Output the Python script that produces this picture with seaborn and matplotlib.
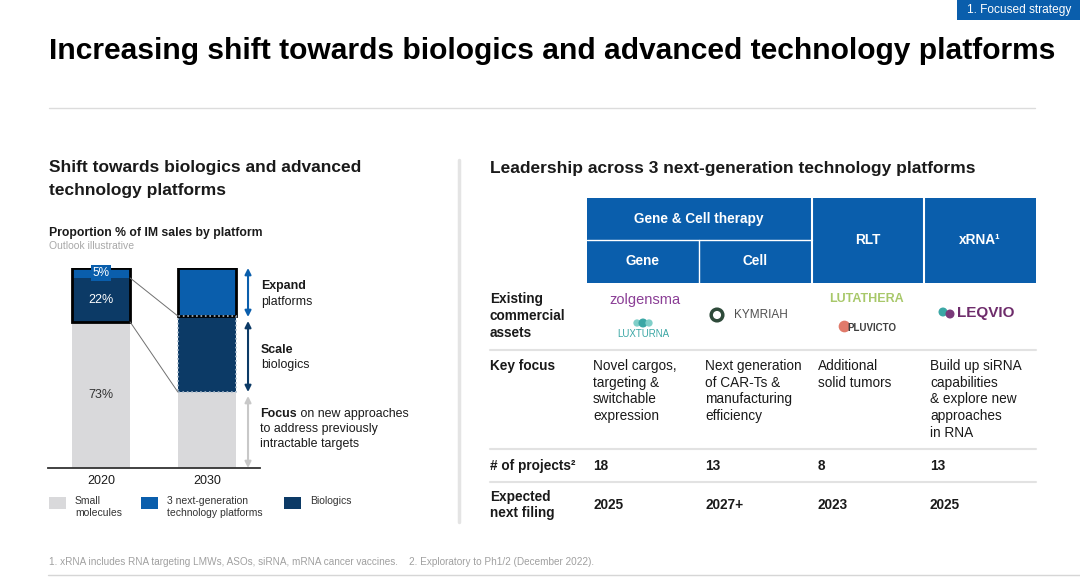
import matplotlib
matplotlib.use('Agg')
import matplotlib.pyplot as plt
import seaborn as sns
import pandas as pd

sns.set_style('white')
plt.rcParams['font.family'] = ['Liberation Sans', 'DejaVu Sans']

W, H = 1080, 578
BLUE = '#0A5EAC'
NAVY = '#0C3A66'
LIGHT = '#D9D9DB'
INK = '#1A1A1A'
RULE = '#DCDCDC'
BODY = 9.8

# left chart: proportion % of IM sales by platform
years = ['2020', '2030']
small_molecules = [73, 38]
biologics = [22, 38]
platforms = [5, 24]
legend_labels = ['Small\nmolecules', '3 next-generation\ntechnology platforms', 'Biologics']

# right table
group_header = 'Gene & Cell therapy'
platform_cols = ['Gene', 'Cell', 'RLT', 'xRNA¹']
row_labels = ['Existing\ncommercial\nassets', 'Key focus', '# of projects²', 'Expected\nnext filing']
key_focus = ['Novel cargos,\ntargeting &\nswitchable\nexpression',
             'Next generation\nof CAR-Ts &\nmanufacturing\nefficiency',
             'Additional\nsolid tumors',
             'Build up siRNA\ncapabilities\n& explore new\napproaches\nin RNA']
n_projects = ['18', '13', '8', '13']
next_filing = ['2025', '2027+', '2023', '2025']

fig = plt.figure(figsize=(W / 100, H / 100), dpi=100)
fig.patch.set_facecolor('white')

# full-figure canvas in pixel coords for slide elements
bg = fig.add_axes([0, 0, 1, 1])
bg.set_xlim(0, W)
bg.set_ylim(H, 0)
bg.axis('off')

# header tab + title
bg.add_patch(plt.Rectangle((957, 0), W - 957, 20, color=BLUE, lw=0))
bg.text(967, 10, '1. Focused strategy', color='white', fontsize=8.6, va='center')
bg.text(49, 51, 'Increasing shift towards biologics and advanced technology platforms',
        fontsize=21.6, weight='bold', color='black', va='center')
bg.plot([49, 1035], [108, 108], color=RULE, lw=1)
bg.plot([459, 459], [160, 522], color='#E4E4E4', lw=2.5)

# left panel headings
bg.text(49, 179, 'Shift towards biologics and advanced\ntechnology platforms',
        fontsize=12.5, weight='bold', color=INK, va='center', linespacing=1.6)
bg.text(49, 233, 'Proportion % of IM sales by platform', fontsize=8.8, weight='bold',
        color=INK, va='center')
bg.text(49, 246, 'Outlook illustrative', fontsize=7.5, color='#A8A8A8', va='center')

# stacked bars
df = pd.DataFrame({'year': years, 'small': small_molecules,
                   'bio': biologics, 'plat': platforms})
df['to_bio'] = df['small'] + df['bio']
df['total'] = df['to_bio'] + df['plat']

ax = fig.add_axes([48 / W, 110 / H, 212 / W, 200 / H])
ax.patch.set_alpha(0)
BW = 0.55
for col, colour in [('total', BLUE), ('to_bio', NAVY), ('small', LIGHT)]:
    sns.barplot(data=df, x='year', y=col, color=colour, width=BW, saturation=1,
                errorbar=None, linewidth=0, ax=ax)

# outlines
ax.bar(0, df['bio'][0] + df['plat'][0], bottom=df['small'][0], width=BW,
       fill=False, edgecolor='black', linewidth=2)
ax.bar(1, df['plat'][1], bottom=df['to_bio'][1], width=BW,
       fill=False, edgecolor='black', linewidth=2)
ax.bar(1, df['bio'][1], bottom=df['small'][1], width=BW,
       fill=False, edgecolor='#A9BBCC', linewidth=1.2, linestyle=':')

# connector lines between 2020 biologics and 2030 biologics
for lvl in ['to_bio', 'small']:
    ax.plot([0 + BW / 2, 1 - BW / 2], [df[lvl][0], df[lvl][1]], color='#707070', lw=0.7)

# value labels for 2020
ax.text(0, df['to_bio'][0] + df['plat'][0] / 2, f"{df['plat'][0]}%", color='white',
        ha='center', va='center', fontsize=8.5,
        bbox=dict(facecolor=BLUE, edgecolor='none', pad=1.2))
ax.text(0, df['small'][0] + df['bio'][0] / 2, f"{df['bio'][0]}%", color='white',
        ha='center', va='center', fontsize=9)
ax.text(0, df['small'][0] / 2, f"{df['small'][0]}%", color='#333333',
        ha='center', va='center', fontsize=9)

# double-headed arrows
AX = 1.387
for top, bot, colour in [(df['total'][1], df['to_bio'][1] - 0.5, BLUE),
                         (df['to_bio'][1] - 2.5, df['small'][1], NAVY),
                         (df['small'][1] - 2, 0, '#C8C8C8')]:
    ax.annotate('', xy=(AX, top), xytext=(AX, bot), annotation_clip=False,
                arrowprops=dict(arrowstyle='<|-|>', color=colour, lw=1.5,
                                shrinkA=0, shrinkB=0, mutation_scale=9))

ax.set_xlim(-0.5, 1.5)
ax.set_ylim(0, 100)
ax.set_yticks([])
ax.set_xlabel('')
ax.set_ylabel('')
for side in ['left', 'top', 'right']:
    ax.spines[side].set_visible(False)
ax.spines['bottom'].set_color('#333333')
ax.spines['bottom'].set_linewidth(1.3)
ax.tick_params(axis='x', length=0, labelsize=9, pad=5, labelcolor=INK)

# arrow captions
CAP = 8.9
def two_part(x, y, bold, rest, size=CAP):
    t = bg.text(x, y, bold, weight='bold', fontsize=size, color=INK, va='center')
    if rest:
        bg.annotate(rest, xy=(1, 0.5), xycoords=t, fontsize=size, color=INK,
                    va='center', ha='left')

two_part(261, 286, 'Expand', '')
bg.text(261, 302, 'platforms', fontsize=CAP, color=INK, va='center')
two_part(261, 350, 'Scale', '')
bg.text(261, 365, 'biologics', fontsize=CAP, color=INK, va='center')
two_part(260, 414, 'Focus', ' on new approaches')
bg.text(260, 429, 'to address previously', fontsize=CAP, color=INK, va='center')
bg.text(260, 444, 'intractable targets', fontsize=CAP, color=INK, va='center')

# legend
for x0, colour, label in zip([49, 141, 284], [LIGHT, BLUE, NAVY], legend_labels):
    bg.add_patch(plt.Rectangle((x0, 497), 17, 12, color=colour, lw=0))
    bg.text(x0 + 26, 496, label, fontsize=7.5, color='#333333', va='top', linespacing=1.2)

# right panel
bg.text(490, 168, 'Leadership across 3 next-generation technology platforms',
        fontsize=12.5, weight='bold', color=INK, va='center')

col_edges = [587, 699, 812, 924, 1036]
centers = [(a + b) / 2 for a, b in zip(col_edges[:-1], col_edges[1:])]
bg.add_patch(plt.Rectangle((587, 198), 1036 - 587, 85, color=BLUE, lw=0))
bg.plot([587, 812], [240, 240], color='white', lw=1)
bg.plot([699, 699], [240, 283], color='white', lw=1)
for xe in [812, 924]:
    bg.plot([xe, xe], [198, 283], color='white', lw=1.5)
bg.text(699, 219, group_header, color='white', weight='bold', fontsize=BODY,
        ha='center', va='center')
for i, name in enumerate(platform_cols):
    y = 261 if i < 2 else 240
    bg.text(centers[i], y, name, color='white', weight='bold', fontsize=BODY,
            ha='center', va='center')

# row labels
LS = 1.24
label_y = [316, 366, 466, 505]
for lab, y in zip(row_labels, label_y):
    va = 'top' if lab == 'Key focus' else 'center'
    yy = y - 7 if va == 'top' else y
    bg.text(490, yy, lab, weight='bold', fontsize=BODY, color=INK, va=va,
            linespacing=LS)

for yl in [350, 449, 482]:
    bg.plot([490, 1036], [yl, yl], color='#E2E2E2', lw=1.5)

# existing assets (brand names as coloured text)
bg.text(645, 300, 'zolgensma', color='#8B3F96', fontsize=10.5, ha='center', va='center')
bg.scatter([637, 643, 649], [323, 323, 323], s=[18, 30, 18],
           color=['#7FCFC9', '#3BA7A5', '#7FCFC9'], zorder=3)
bg.text(643, 334, 'LUXTURNA', color='#3BA7A5', fontsize=7, ha='center', va='center')
bg.scatter([717], [315], s=70, facecolor='none', edgecolor='#2E4A3A', linewidths=2.5, zorder=3)
bg.text(761, 315, 'KYMRIAH', color='#505050', fontsize=8.5, ha='center', va='center')
bg.text(866, 299, 'LUTATHERA', color='#A8C86A', fontsize=9, weight='bold',
        ha='center', va='center')
bg.scatter([844], [326], s=55, color='#E07A6A', zorder=3)
bg.text(872, 328, 'PLUVICTO', color='#3F3F3F', fontsize=7, weight='bold',
        ha='center', va='center')
bg.scatter([943, 950], [312, 314], s=[30, 30], color=['#3BA7A5', '#7A3A7A'], zorder=3)
bg.text(986, 313, 'LEQVIO', color='#6E2C6B', fontsize=11, weight='bold',
        ha='center', va='center')

# table body
for i in range(4):
    x = col_edges[i] + 6
    bg.text(x, 359, key_focus[i], fontsize=BODY, color=INK, va='top', linespacing=LS)
    bg.text(x, 466, n_projects[i], fontsize=BODY, weight='bold', color=INK, va='center')
    bg.text(x, 505, next_filing[i], fontsize=BODY, weight='bold', color=INK, va='center')

# footnote
bg.text(49, 562, '1. xRNA includes RNA targeting LMWs, ASOs, siRNA, mRNA cancer vaccines.'
        '    2. Exploratory to Ph1/2 (December 2022).', fontsize=7.2, color='#A0A0A0',
        va='center')
bg.plot([48, W], [575, 575], color='#D6D6D6', lw=1)

fig.savefig('out.png', dpi=100, facecolor='white')
